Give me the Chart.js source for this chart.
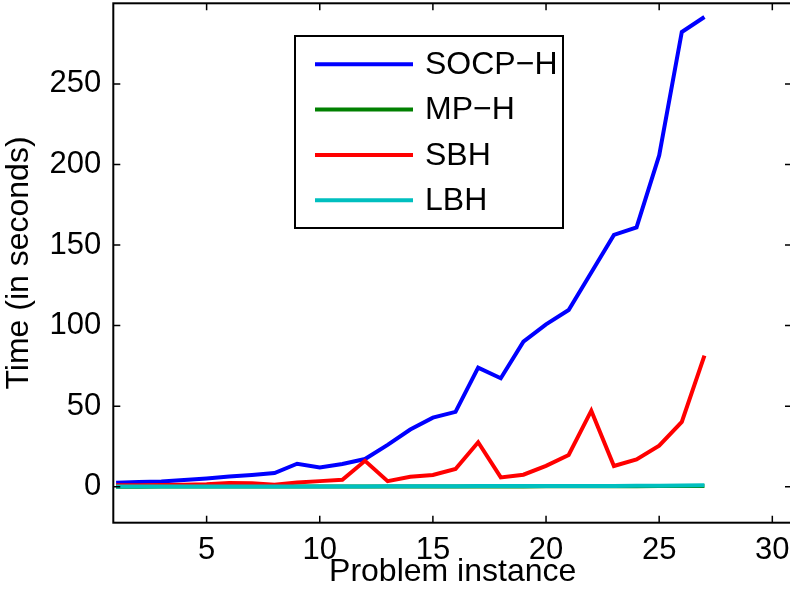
<!DOCTYPE html>
<html>
<head>
<meta charset="utf-8">
<title>Run time per problem instance</title>
<script src="https://cdn.jsdelivr.net/npm/chart.js@4/dist/chart.umd.min.js"></script>
<style>
  html, body { margin: 0; padding: 0; background: #fff; overflow: hidden; }
  #wrap { width: 797px; height: 589px; }
</style>
</head>
<body>
<div id="wrap"><canvas id="timeChart"></canvas></div>
<script>
// Solve time (seconds) of the four heuristics over 27 problem instances.
const INSTANCES = [1, 2, 3, 4, 5, 6, 7, 8, 9, 10, 11, 12, 13, 14, 15, 16, 17, 18, 19, 20, 21, 22, 23, 24, 25, 26, 27];
const SOCP_H = [2.5, 3, 3.3, 4.2, 5.2, 6.4, 7.3, 8.5, 14.3, 12, 14.1, 17.2, 26, 35.5, 42.9, 46.5, 73.9, 67.3, 90, 100.8,
  109.7, 133, 156.3, 160.9, 205.6, 282.2, 291.5];
const MP_H = [0, 0, 0.1, 0.1, 0.1, 0.1, 0.1, 0.1, 0.1, 0.1, 0.1, 0.1, 0.1, 0.2, 0.2, 0.2, 0.2, 0.2, 0.2, 0.3,
  0.3, 0.3, 0.3, 0.3, 0.4, 0.4, 0.5];
const SBH = [0.9, 1, 1.1, 1.2, 1.5, 2.3, 2.2, 1.3, 2.7, 3.5, 4.3, 16.1, 3.5, 6.2, 7.3, 11, 27.6, 5.8, 7.5, 13,
  19.7, 47.2, 12.9, 17, 25.5, 40.2, 81.4];
const LBH = [0.1, 0.1, 0.1, 0.1, 0.1, 0.1, 0.1, 0.2, 0.2, 0.2, 0.2, 0.2, 0.3, 0.3, 0.3, 0.3, 0.4, 0.4, 0.4, 0.4,
  0.5, 0.5, 0.5, 0.6, 0.7, 0.8, 0.9];

const SERIES_NAMES = ["SOCP−H", "MP−H", "SBH", "LBH"];
const X_TICKS = [5, 10, 15, 20, 25, 30];
const Y_TICKS = [0, 50, 100, 150, 200, 250];

const COLORS = ["#0000ff", "#008000", "#ff0000", "#00bfbf"];
const FONT = "'Liberation Sans', Arial, Helvetica, sans-serif";

Chart.defaults.font.family = FONT;
Chart.defaults.color = "#000";

const toPoints = (ys) => ys.map((y, i) => ({ x: INSTANCES[i], y }));

// axes box with inward tick marks, matlab style
const frame = {
  id: "frame",
  afterDatasetsDraw(chart) {
    const { ctx, chartArea: a, scales } = chart;
    const tl = 7;
    ctx.save();
    ctx.strokeStyle = "#000";
    ctx.lineWidth = 1.5;
    ctx.beginPath();
    scales.x.ticks.forEach((t) => {
      const px = scales.x.getPixelForValue(t.value);
      ctx.moveTo(px, a.bottom); ctx.lineTo(px, a.bottom - tl);
      ctx.moveTo(px, a.top); ctx.lineTo(px, a.top + tl);
    });
    scales.y.ticks.forEach((t) => {
      const py = scales.y.getPixelForValue(t.value);
      ctx.moveTo(a.left, py); ctx.lineTo(a.left + tl, py);
      ctx.moveTo(a.right, py); ctx.lineTo(a.right - tl, py);
    });
    ctx.stroke();
    ctx.lineWidth = 2;
    ctx.strokeRect(a.left, a.top, a.right - a.left, a.bottom - a.top);
    ctx.restore();
  },
};

// boxed legend sitting inside the plot
const boxLegend = {
  id: "boxLegend",
  afterDraw(chart, args, opts) {
    const { ctx } = chart;
    ctx.save();
    ctx.fillStyle = "#fff";
    ctx.fillRect(opts.x, opts.y, opts.w, opts.h);
    ctx.lineWidth = 2;
    ctx.strokeStyle = "#000";
    ctx.strokeRect(opts.x, opts.y, opts.w, opts.h);
    ctx.font = "32px " + FONT;
    ctx.textBaseline = "middle";
    ctx.fillStyle = "#000";
    chart.data.datasets.forEach((ds, i) => {
      const y = opts.y + opts.first + i * opts.step;
      ctx.strokeStyle = ds.borderColor;
      ctx.lineWidth = ds.borderWidth;
      ctx.beginPath();
      ctx.moveTo(opts.x + 20, y);
      ctx.lineTo(opts.x + 118, y);
      ctx.stroke();
      ctx.fillText(ds.label, opts.x + 130, y + 1);
    });
    ctx.restore();
  },
};

const datasets = [SOCP_H, MP_H, SBH, LBH].map((vals, i) => ({
  label: SERIES_NAMES[i],
  data: toPoints(vals),
  borderColor: COLORS[i],
  backgroundColor: COLORS[i],
  borderWidth: 4,
  pointRadius: 0,
  tension: 0,
  order: 4 - i,
}));

new Chart(document.getElementById("timeChart"), {
  type: "line",
  data: { datasets },
  plugins: [frame, boxLegend],
  options: {
    responsive: true,
    maintainAspectRatio: false,
    animation: false,
    layout: { padding: { top: 3.3, right: 5, bottom: 0, left: 0 } },
    plugins: {
      legend: { display: false },
      tooltip: { enabled: false },
      boxLegend: { x: 295, y: 36, w: 268, h: 192, first: 28.3, step: 45.3 },
    },
    scales: {
      x: {
        type: "linear",
        min: 0.876,
        max: 30.87,
        afterBuildTicks: (s) => { s.ticks = X_TICKS.map((value) => ({ value })); },
        afterFit: (s) => { s.height = 66.3; s.paddingLeft = 0; s.paddingRight = 0; },
        grid: { display: false, drawTicks: false },
        border: { display: false },
        ticks: { font: { size: 31 }, padding: 9, maxRotation: 0, autoSkip: false },
        title: {
          display: true, text: "Problem instance",
          font: { size: 32, lineHeight: 1 }, padding: { top: 0, bottom: 1 },
        },
      },
      y: {
        min: -22.3,
        max: 300,
        afterBuildTicks: (s) => { s.ticks = Y_TICKS.map((value) => ({ value })); },
        afterFit: (s) => { s.width = 113.3; s.paddingTop = 0; s.paddingBottom = 0; },
        grid: { display: false, drawTicks: false },
        border: { display: false },
        ticks: { font: { size: 31 }, padding: 12 },
        title: {
          display: true, text: "Time (in seconds)",
          font: { size: 32, lineHeight: 1.2 }, padding: 0,
        },
      },
    },
  },
});
</script>
</body>
</html>
